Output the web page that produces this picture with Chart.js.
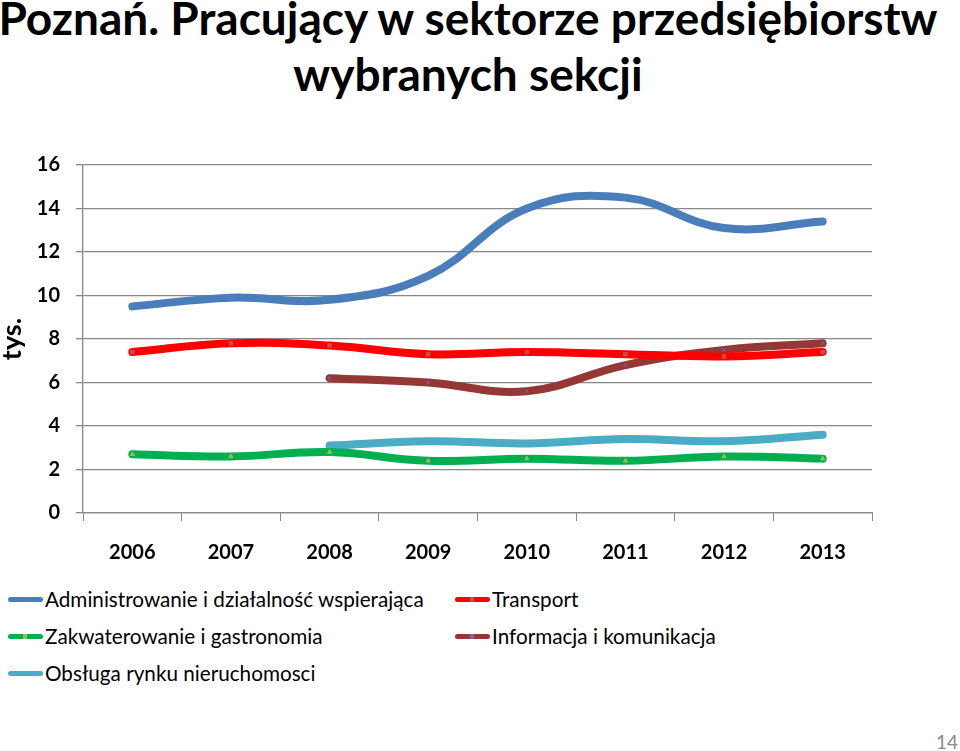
<!DOCTYPE html>
<html lang="pl">
<head>
<meta charset="utf-8">
<title>Poznań. Pracujący w sektorze przedsiębiorstw wybranych sekcji</title>
<script src="https://cdn.jsdelivr.net/npm/chart.js@4.4.1/dist/chart.umd.min.js"></script>
<style>
    html, body { margin: 0; padding: 0; background: #fff; }
    body { width: 960px; height: 751px; position: relative; overflow: hidden; font-family: Lato, "Open Sans", sans-serif; }
    #title {
        position: absolute; left: -20px; top: -10px; width: 976px;
        text-align: center; font-weight: bold; font-size: 46px; line-height: 56px; color: #000;
    }
    #chartBox { position: absolute; left: 0; top: 137px; width: 960px; height: 433px; }
    #legend { position: absolute; left: 8px; top: 587px; width: 940px; }
    .item { position: absolute; display: flex; align-items: center; font-size: 20.7px; color: #000; white-space: nowrap; }
    .swatch { width: 35px; height: 5px; border-radius: 3px; margin-right: 2px; position: relative; }
    .swatch i { position: absolute; left: 15px; top: 0; width: 4px; height: 5px; }
    #page { position: absolute; right: 2px; bottom: -2px; font-size: 19px; color: #888; }
</style>
</head>
<body>
<div id="title">Poznań. Pracujący w sektorze przedsiębiorstw<br>wybranych sekcji</div>
<div id="chartBox"><canvas id="workersChart"></canvas></div>
<div id="legend"></div>
<div id="page">14</div>

<script>
// Data (thousands of workers)
const years = ["2006", "2007", "2008", "2009", "2010", "2011", "2012", "2013"];
const administrowanie = [9.5, 9.9, 9.8, 10.9, 14.0, 14.5, 13.1, 13.4];
const transport = [7.4, 7.8, 7.7, 7.3, 7.4, 7.3, 7.2, 7.4];
const zakwaterowanie = [2.7, 2.6, 2.8, 2.4, 2.5, 2.4, 2.6, 2.5];
const informacja = [null, null, 6.2, 6.0, 5.6, 6.8, 7.5, 7.8];
const nieruchomosci = [null, null, 3.1, 3.3, 3.2, 3.4, 3.3, 3.6];
const yTicks = [0, 2, 4, 6, 8, 10, 12, 14, 16];

document.addEventListener("DOMContentLoaded", () => {
    const ctx = document.getElementById("workersChart");

    const series = [
        { label: "Administrowanie i działalność wspierająca", data: administrowanie, color: "#4a7ebb", marker: "#4f81bd", style: "rectRot" },
        { label: "Transport", data: transport, color: "#ff0000", marker: "#c0504d", style: "rect" },
        { label: "Zakwaterowanie i gastronomia", data: zakwaterowanie, color: "#00b050", marker: "#9bbb59", style: "triangle" },
        { label: "Informacja i komunikacja", data: informacja, color: "#953735", marker: "#8064a2", style: "crossRot" },
        { label: "Obsługa rynku nieruchomosci", data: nieruchomosci, color: "#4bacc6", marker: "#4bacc6", style: "circle" },
    ];

    const data = {
        labels: years,
        datasets: series.map((s) => ({
            label: s.label,
            data: s.data,
            borderColor: s.color,
            backgroundColor: s.marker,
            borderWidth: 8,
            borderCapStyle: "round",
            tension: 0.4,
            pointStyle: s.style,
            pointRadius: 2.5,
            pointBorderWidth: 1,
            pointBorderColor: s.marker,
            pointBackgroundColor: s.marker,
        })),
    };

    const tickFont = { family: "Lato", size: 20, weight: "bold" };

    const config = {
        type: "line",
        data,
        options: {
            responsive: false,
            animation: false,
            layout: { padding: { top: 21, right: 88, left: 0, bottom: 0 } },
            scales: {
                x: {
                    offset: true,
                    grid: { drawOnChartArea: false, color: "#888", tickLength: 8, offset: true },
                    border: { color: "#888", width: 1.3 },
                    ticks: { color: "#000", font: tickFont, padding: 20, maxRotation: 0 },
                    afterFit: (scale) => { scale.height = 57; },
                },
                y: {
                    min: 0,
                    max: 16,
                    afterBuildTicks: (scale) => { scale.ticks = yTicks.map((v) => ({ value: v })); },
                    grid: { color: "#888", lineWidth: 1.3, tickLength: 7 },
                    border: { color: "#888", width: 1.3 },
                    ticks: { color: "#000", font: tickFont, padding: 16 },
                    title: {
                        display: true,
                        text: "tys.",
                        color: "#000",
                        font: { family: "Lato", size: 27, weight: "bold" },
                        padding: { top: -4, bottom: 0 },
                    },
                    afterFit: (scale) => { scale.width = 83; },
                },
            },
            plugins: {
                legend: { display: false },
                tooltip: { enabled: false },
            },
        },
    };

    ctx.width = 960;
    ctx.height = 433;
    const chart = new Chart(ctx, config);

    // HTML legend in two columns, built from the datasets
    const legendBox = document.getElementById("legend");
    const spots = [[0, 0], [447, 0], [0, 37], [447, 37], [0, 74]];
    chart.data.datasets.forEach((ds, i) => {
        const item = document.createElement("div");
        item.className = "item";
        item.style.left = spots[i][0] + "px";
        item.style.top = spots[i][1] + "px";
        item.innerHTML =
            '<span class="swatch" style="background:' + ds.borderColor + '"><i style="background:' +
            ds.pointBackgroundColor + '"></i></span>' + ds.label;
        legendBox.appendChild(item);
    });
});
</script>
</body>
</html>
